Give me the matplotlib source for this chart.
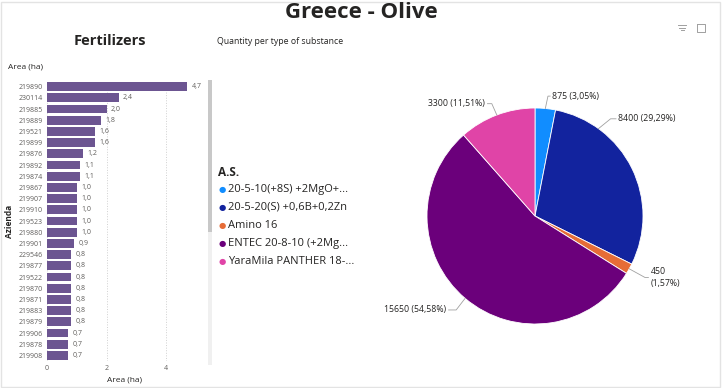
import matplotlib.pyplot as plt
import numpy as np
from matplotlib.patches import Rectangle
from matplotlib.lines import Line2D

plt.rcParams['font.family'] = ['Open Sans', 'DejaVu Sans']

# bar chart data
farms = ['219890', '230114', '219885', '219889', '219521', '219899', '219876',
         '219892', '219874', '219867', '219907', '219910', '219523', '219880',
         '219901', '229546', '219877', '219522', '219870', '219871', '219883',
         '219879', '219906', '219878', '219908']
areas = [4.7, 2.4, 2.0, 1.8, 1.6, 1.6, 1.2, 1.1, 1.1, 1.0, 1.0, 1.0, 1.0, 1.0,
         0.9, 0.8, 0.8, 0.8, 0.8, 0.8, 0.8, 0.8, 0.7, 0.7, 0.7]

# pie data
substances = ['20-5-10(+8S) +2MgO+...', '20-5-20(S) +0,6B+0,2Zn', 'Amino 16',
              'ENTEC 20-8-10 (+2Mg...', 'YaraMila PANTHER 18-...']
quantities = [875, 8400, 450, 15650, 3300]
pie_colors = ['#118DFF', '#12239E', '#E66C37', '#6B007B', '#E044A7']

W, H = 723, 388
fig = plt.figure(figsize=(W / 100, H / 100), dpi=100)
fig.patch.set_facecolor('white')


def fx(px):
    return px / W


def fy(py):
    return 1 - py / H


fig.patches.append(Rectangle((0.002, 0.003), 0.994, 0.992, transform=fig.transFigure,
                             fill=False, edgecolor='#E3E3E3', linewidth=1))

fig.text(0.5, fy(13), 'Greece - Olive', ha='center', va='center',
         fontsize=16, fontweight='bold', color='#252423')
fig.text(fx(110), fy(41), 'Fertilizers', ha='center', va='center',
         fontsize=10.5, fontweight='bold', color='#252423')
fig.text(fx(217), fy(41), 'Quantity per type of substance', ha='left', va='center',
         fontsize=6.3, color='#252423')

# small header icons (filter + focus), drawn as shapes
ic = '#A0A0A0'
for i, half in enumerate([4, 3, 1.5]):
    fig.lines.append(Line2D([fx(682 - half), fx(682 + half)], [fy(25 + i * 2.5)] * 2,
                            transform=fig.transFigure, color=ic, lw=0.7))
fig.lines.append(Line2D([fx(697), fx(697), fx(705), fx(705), fx(697)],
                        [fy(24), fy(32), fy(32), fy(24), fy(24)],
                        transform=fig.transFigure, color=ic, lw=0.7))

# --- bar chart ---
n = len(farms)
ax = fig.add_axes([fx(47), fy(361), fx(155), (361 - 81) / H])
y = np.arange(n)
ax.barh(y, areas, height=0.8, color='#6C5591')
ax.set_ylim(n - 0.5, -0.5)
ax.set_xlim(0, 5.2)
ax.set_yticks(y)
ax.set_yticklabels(farms)
ax.set_xticks([0, 2, 4])
ax.tick_params(axis='both', length=0, labelsize=5, colors='#605E5C', pad=3)
for s in ax.spines.values():
    s.set_visible(False)
ax.grid(axis='x', linestyle=':', color='#D0D0D0', linewidth=0.7)
ax.set_axisbelow(True)
for yi, v in zip(y, areas):
    ax.text(v + 0.15, yi, f'{v:.1f}'.replace('.', ','), va='center', ha='left',
            fontsize=5, color='#605E5C')
ax.set_xlabel('Area (ha)', fontsize=6, color='#252423', labelpad=3)
ax.set_ylabel('Azienda', fontsize=6, color='#252423', fontweight='bold', labelpad=3)
fig.text(fx(8), fy(67), 'Area (ha)', ha='left', va='center', fontsize=6, color='#252423')

# scrollbar
fig.patches.append(Rectangle((fx(208), fy(365)), fx(4), (365 - 80) / H,
                             transform=fig.transFigure, color='#F0F0F0', lw=0))
fig.patches.append(Rectangle((fx(208), fy(232)), fx(4), (232 - 80) / H,
                             transform=fig.transFigure, color='#C8C8C8', lw=0))

# --- legend ---
fig.text(fx(218), fy(172), 'A.S.', ha='left', va='center', fontsize=8.5,
         fontweight='bold', color='#252423')
for i, (name, c) in enumerate(zip(substances, pie_colors)):
    yy = 189 + i * 18.2
    fig.text(fx(222), fy(yy), '●', ha='center', va='center', fontsize=6, color=c,
             family=['DejaVu Sans'])
    fig.text(fx(228), fy(yy), name, ha='left', va='center', fontsize=8,
             color='#252423')

# --- pie chart ---
cx, cy, r = 535, 216, 108
pax = fig.add_axes([fx(cx - r), fy(cy + r), fx(2 * r), 2 * r / H])
wedges, _ = pax.pie(quantities, colors=pie_colors, startangle=90, counterclock=False,
                    radius=1, wedgeprops=dict(linewidth=0.6, edgecolor='white'))
pax.set_xlim(-1, 1)
pax.set_ylim(-1, 1)
pax.set_aspect('equal')
pax.axis('off')

total = sum(quantities)
# label layout: anchor angle override (deg, None = mid angle), elbow point, text point, ha
layout = [
    (None, (0.12, 1.11), (0.14, 1.11), 'left'),
    (54, (0.70, 0.90), (0.75, 0.90), 'left'),
    (None, (1.02, -0.57), (1.05, -0.57), 'left'),
    (None, (-0.73, -0.87), (-0.80, -0.87), 'right'),
    (None, (-0.40, 1.04), (-0.44, 1.04), 'right'),
]
for w, q, (ang, elbow, tpos, ha) in zip(wedges, quantities, layout):
    a = np.deg2rad(ang if ang is not None else (w.theta1 + w.theta2) / 2)
    p0 = (np.cos(a), np.sin(a))
    pct = f'{100 * q / total:.2f}'.replace('.', ',')
    lab = f'{q} ({pct}%)' if q != 450 else f'{q}\n({pct}%)'
    pax.plot([p0[0], elbow[0], tpos[0]], [p0[1], elbow[1], tpos[1]],
             color='#A0A0A0', lw=0.6, clip_on=False)
    pax.text(tpos[0] + (0.02 if ha == 'left' else -0.02), tpos[1], lab, ha=ha,
             va='center', fontsize=6.3, color='#252423', clip_on=False,
             linespacing=1.5)

fig.savefig('out.png', dpi=100)
